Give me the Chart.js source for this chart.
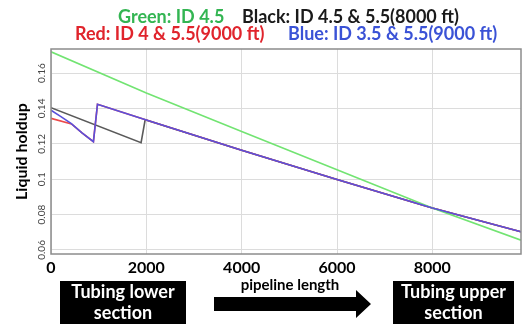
<!DOCTYPE html>
<html lang="en">
<head>
    <meta charset="UTF-8">
    <title>Liquid holdup along the tubing</title>
    <script src="https://cdn.jsdelivr.net/npm/chart.js"></script>
    <style>
        body {
            margin: 0;
            width: 525px;
            height: 327px;
            overflow: hidden;
            background: #fff;
            font-family: Lato, "Open Sans", sans-serif;
            position: relative;
        }
        #wrap {
            position: absolute;
            left: 0;
            top: 0;
            width: 525px;
            height: 327px;
        }
        .legend {
            position: absolute;
            font-weight: bold;
            font-size: 18px;
            white-space: nowrap;
            line-height: 18px;
        }
        .box {
            position: absolute;
            top: 281px;
            height: 43px;
            background: #000;
            color: #fff;
            font-weight: bold;
            font-size: 18px;
            line-height: 21px;
            text-align: center;
        }
        #arrowLabel {
            position: absolute;
            left: 210px;
            width: 160px;
            top: 275px;
            text-align: center;
            font-weight: bold;
            font-size: 15px;
        }
        #arrow {
            position: absolute;
            left: 214px;
            top: 288px;
        }
    </style>
</head>
<body>

<div id="wrap"><canvas id="holdupChart" width="525" height="327"></canvas></div>

<div class="legend" style="top: 7px; left: 118px; color:#33b552">Green: ID 4.5</div>
<div class="legend" style="top: 7px; left: 242px; color:#1a1a1a">Black: ID 4.5 &amp; 5.5(8000 ft)</div>
<div class="legend" style="top: 24px; left: 75px; color:#e0242c">Red: ID 4 &amp; 5.5(9000 ft)</div>
<div class="legend" style="top: 24px; left: 288px; color:#3a52d6">Blue: ID 3.5 &amp; 5.5(9000 ft)</div>

<div class="box" style="left: 60px; width: 126px;">Tubing lower<br>section</div>
<div class="box" style="left: 393px; width: 121px;">Tubing upper<br>section</div>
<div id="arrowLabel">pipeline length</div>
<svg id="arrow" width="160" height="32">
    <polygon points="0,9 142,9 142,2 157,16 142,30 142,23 0,23" fill="#000"/>
</svg>

<script>
// pipeline position (ft) and liquid holdup for each completion
const greenX = [0, 2000, 4000, 6000, 8000, 9860];
const greenY = [0.172, 0.1487, 0.1270, 0.1053, 0.0837, 0.0655];

const blueX = [0, 200, 420, 650, 890, 975, 2000, 4000, 6000, 8000, 9860];
const blueY = [0.139, 0.1355, 0.1316, 0.1262, 0.1212, 0.1423, 0.1334, 0.1163, 0.0998, 0.0837, 0.0703];

const redX = [0, 430, 650, 890, 975, 2000, 4000, 6000, 8000, 9860];
const redY = [0.1344, 0.1312, 0.1262, 0.1212, 0.1423, 0.1334, 0.1163, 0.0998, 0.0837, 0.0703];

const blackX = [0, 1890, 1975, 4000, 6000, 8000, 9860];
const blackY = [0.1404, 0.1206, 0.1336, 0.1163, 0.0998, 0.0837, 0.0703];

const xTicks = [0, 2000, 4000, 6000, 8000];
const yGrid = [0.06, 0.07, 0.08, 0.09, 0.10, 0.11, 0.12, 0.13, 0.14, 0.15, 0.16, 0.17];
const yLabelled = [0.06, 0.08, 0.1, 0.12, 0.14, 0.16];

function pts(xs, ys) {
    return xs.map((x, i) => ({ x: x, y: ys[i] }));
}

function line(label, xs, ys, color) {
    return {
        label: label,
        data: pts(xs, ys),
        borderColor: color,
        borderWidth: 1.6,
        pointRadius: 0,
        fill: false,
        tension: 0
    };
}

// outline the plot area on all four sides
const frame = {
    id: 'frame',
    afterDraw(chart) {
        const a = chart.chartArea;
        const ctx = chart.ctx;
        ctx.save();
        ctx.strokeStyle = '#8c8c8c';
        ctx.lineWidth = 1.5;
        ctx.strokeRect(a.left, a.top, a.right - a.left, a.bottom - a.top);
        ctx.restore();
    }
};

const ctx = document.getElementById('holdupChart').getContext('2d');

new Chart(ctx, {
    type: 'line',
    data: {
        datasets: [
            line('Blue', blueX, blueY, '#5a50dc'),
            line('Green', greenX, greenY, '#72e472'),
            line('Red', redX, redY, '#ec4a4a'),
            line('Black', blackX, blackY, '#5a5a5a')
        ]
    },
    options: {
        responsive: false,
        animation: false,
        layout: { padding: { left: 0, right: 4, top: 49, bottom: 0 } },
        plugins: {
            legend: { display: false },
            tooltip: { enabled: false }
        },
        scales: {
            x: {
                type: 'linear',
                min: 0,
                max: 9860,
                afterFit: s => { s.height = 73; },
                afterBuildTicks: s => { s.ticks = xTicks.map(v => ({ value: v })); },
                grid: { color: '#dcdcdc', drawTicks: false },
                border: { display: false },
                ticks: {
                    padding: 4,
                    color: '#000',
                    font: { family: 'Lato', weight: 'bold', size: 16 },
                    maxRotation: 0,
                    callback: v => String(v)
                }
            },
            y: {
                type: 'linear',
                min: 0.0577,
                max: 0.1736,
                afterFit: s => { s.width = 51; },
                afterBuildTicks: s => { s.ticks = yGrid.map(v => ({ value: v })); },
                grid: { color: '#dcdcdc', drawTicks: false },
                border: { display: false },
                title: {
                    display: true,
                    text: 'Liquid holdup',
                    color: '#000',
                    font: { family: 'Lato', weight: 'bold', size: 16 },
                    padding: { top: 12, bottom: 0 }
                },
                ticks: {
                    minRotation: 90,
                    maxRotation: 90,
                    crossAlign: 'center',
                    padding: -1,
                    color: '#444',
                    font: { family: 'Lato', size: 10 },
                    callback: v => {
                        const hit = yLabelled.find(t => Math.abs(t - v) < 1e-6);
                        return hit === undefined ? '' : String(hit);
                    }
                }
            }
        }
    },
    plugins: [frame]
});
</script>

</body>
</html>
